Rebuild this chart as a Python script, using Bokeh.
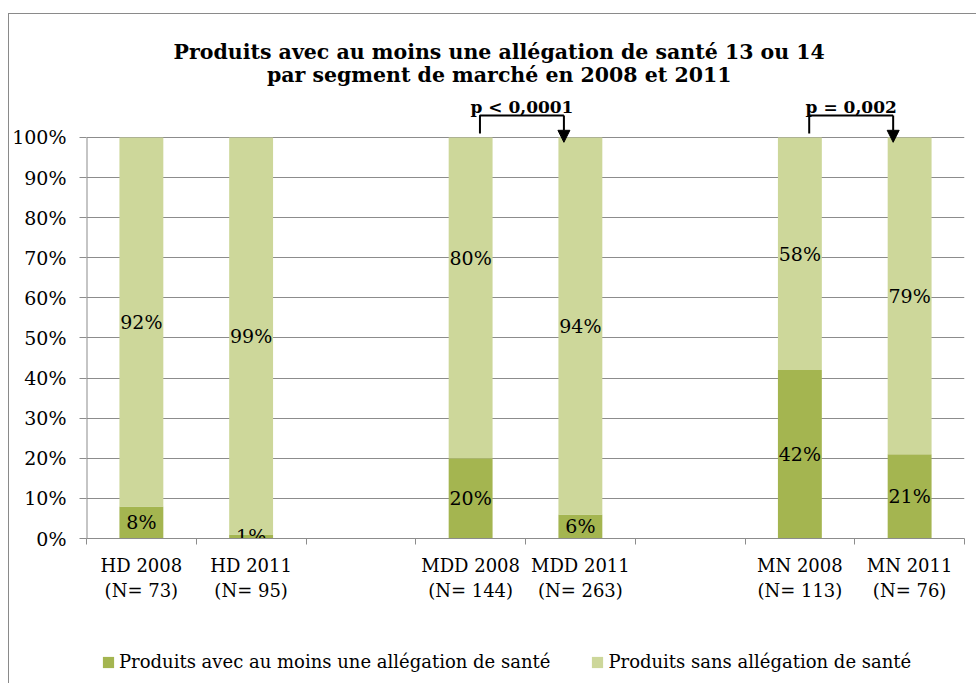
from bokeh.plotting import figure
from bokeh.layouts import column
from bokeh.models import (Range1d, FixedTicker, NumeralTickFormatter, Label, Legend,
                          LegendItem, ColumnDataSource, Arrow, NormalHead)
from bokeh.core.properties import value
from bokeh.embed import file_html
from bokeh.resources import INLINE

# ---------------- data ----------------
title_lines = ["Produits avec au moins une allégation de santé 13 ou 14",
               "par segment de marché en 2008 et 2011"]
groups = ["HD", "MDD", "MN"]
years = ["2008", "2011"]
sample_sizes = [73, 95, 144, 263, 113, 76]
with_claim = [8, 1, 20, 6, 42, 21]          # % produits avec au moins une allégation
without_claim = [92, 99, 80, 94, 58, 79]    # % produits sans allégation
series_names = ["Produits avec au moins une allégation de santé",
                "Produits sans allégation de santé"]
y_ticks = [0, 10, 20, 30, 40, 50, 60, 70, 80, 90, 100]
comparisons = [("MDD 2008", "MDD 2011", "p < 0,0001"),
               ("MN 2008", "MN 2011", "p = 0,002")]

# ---------------- styling ----------------
DARK = "#A4B550"
LIGHT = "#CDD79A"
GRID = "#8C8C8C"
SERIF = "DejaVu Serif"

categories = [f"{g} {y}" for g in groups for y in years]
n_slots = len(groups) * (len(years) + 1) - 1
slots = [gi * (len(years) + 1) + yi for gi in range(len(groups)) for yi in range(len(years))]
xc = [s + 0.5 for s in slots]
cat_x = dict(zip(categories, xc))

low = [v / 100 for v in with_claim]
high = [(a + b) / 100 for a, b in zip(with_claim, without_claim)]

p = figure(width=967, height=616, x_range=Range1d(0, n_slots), y_range=Range1d(0, 1.2668),
           output_backend="svg", toolbar_location=None, title=None,
           min_border_left=76, min_border_right=12, min_border_top=16, min_border_bottom=92)
p.outline_line_color = None
p.background_fill_color = "white"
p.border_fill_color = "white"
p.xgrid.grid_line_color = None
p.ygrid.grid_line_color = GRID
p.ygrid.grid_line_width = 1

src = ColumnDataSource(dict(x=xc, low=low, high=high))
p.vbar(x="x", width=0.4, bottom=0, top="low", source=src, fill_color=DARK, line_color=None)
p.vbar(x="x", width=0.4, bottom="low", top="high", source=src, fill_color=LIGHT, line_color=None)

# y axis line from 0% to 100% only
p.segment(x0=[0], y0=[0], x1=[0], y1=[y_ticks[-1] / 100], line_color=GRID, line_width=2)

# value labels (centre of each segment; one label nudged as in the original)
nudge = {("MDD 2008", "light"): 0.10}
lx, ly, lt = [], [], []
for c, x, a, b in zip(categories, xc, with_claim, without_claim):
    lx.append(x); ly.append(a / 200); lt.append(f"{a}%")
    lx.append(x); ly.append(a / 100 + b / 200 + nudge.get((c, "light"), 0)); lt.append(f"{b}%")
p.text(x="x", y="y", text="t", source=ColumnDataSource(dict(x=lx, y=ly, t=lt)),
       text_align="center", text_baseline="middle", text_font=value(SERIF),
       text_font_size="19px", text_color="black")

# axes
xax = p.xaxis[0]
xax.ticker = FixedTicker(ticks=xc, minor_ticks=list(range(n_slots + 1)))
xax.major_label_overrides = {x: f"{c}\n(N= {n})" for x, c, n in zip(xc, categories, sample_sizes)}
xax.major_tick_out = 0
xax.major_tick_in = 0
xax.minor_tick_out = 6
xax.minor_tick_in = 0
xax.minor_tick_line_color = GRID
xax.axis_line_color = GRID
xax.major_label_text_font = SERIF
xax.major_label_text_font_size = "18px"
xax.major_label_text_color = "black"
xax.major_label_standoff = 10

yax = p.yaxis[0]
yax.ticker = FixedTicker(ticks=[t / 100 for t in y_ticks])
yax.formatter = NumeralTickFormatter(format="0%")
yax.axis_line_color = None
yax.major_tick_out = 7
yax.major_tick_in = 0
yax.major_tick_line_color = GRID
yax.minor_tick_line_color = None
yax.major_label_text_font = SERIF
yax.major_label_text_font_size = "19px"
yax.major_label_text_color = "black"
yax.major_label_standoff = 13

# significance brackets
for a, b, txt in comparisons:
    x0 = cat_x[a] + 0.085
    x1 = cat_x[b] - 0.15
    p.line([x0, x0, x1], [1.01, 1.055, 1.055], line_color="black", line_width=2)
    p.add_layout(Arrow(x_start=x1, y_start=1.055, x_end=x1, y_end=0.988, line_width=2,
                       line_color="black",
                       end=NormalHead(size=12, fill_color="black", line_color="black")))
    p.add_layout(Label(x=(x0 + x1) / 2, y=1.077, text=txt, text_align="center",
                       text_baseline="alphabetic", text_font=SERIF, text_font_size="17px",
                       text_font_style="bold", text_color="black"))

# title
for txt, yy in zip(title_lines, [1.214, 1.155]):
    p.add_layout(Label(x=3.76, y=yy, text=txt, text_align="center", text_baseline="alphabetic",
                       text_font=SERIF, text_font_size="20.5px", text_font_style="bold",
                       text_color="black"))

# legend strip below the chart (frame aligned with the chart's frame)
pl = figure(width=967, height=53, x_range=Range1d(0, 1), y_range=Range1d(0, 1),
            output_backend="svg", toolbar_location=None, title=None, min_border=0)
pl.outline_line_color = None
pl.axis.visible = False
pl.grid.visible = False
# zero-height proxies carrying the series styles for the legend
proxy = ColumnDataSource(dict(x=[0.5], z=[0.0]))
k_dark = pl.vbar(x="x", top="z", bottom="z", width=0.1, source=proxy,
                 fill_color=DARK, line_color=None)
k_light = pl.vbar(x="x", top="z", bottom="z", width=0.1, source=proxy,
                  fill_color=LIGHT, line_color=None)
legend = Legend(items=[LegendItem(label=series_names[0], renderers=[k_dark]),
                       LegendItem(label=series_names[1], renderers=[k_light])],
                orientation="horizontal", location=(15, 11), glyph_width=14, glyph_height=14,
                label_standoff=4, spacing=40, padding=0, margin=0, border_line_color=None,
                background_fill_alpha=0, label_text_font=SERIF, label_text_font_size="18px",
                label_text_color="black", label_height=14)
pl.add_layout(legend)

layout = column(p, pl, spacing=0,
                styles={"border-left": "1px solid #8a8a8a", "border-top": "1px solid #8a8a8a",
                        "margin-top": "13px", "margin-left": "8px"})

open("out.html", "w").write(file_html(layout, INLINE))
